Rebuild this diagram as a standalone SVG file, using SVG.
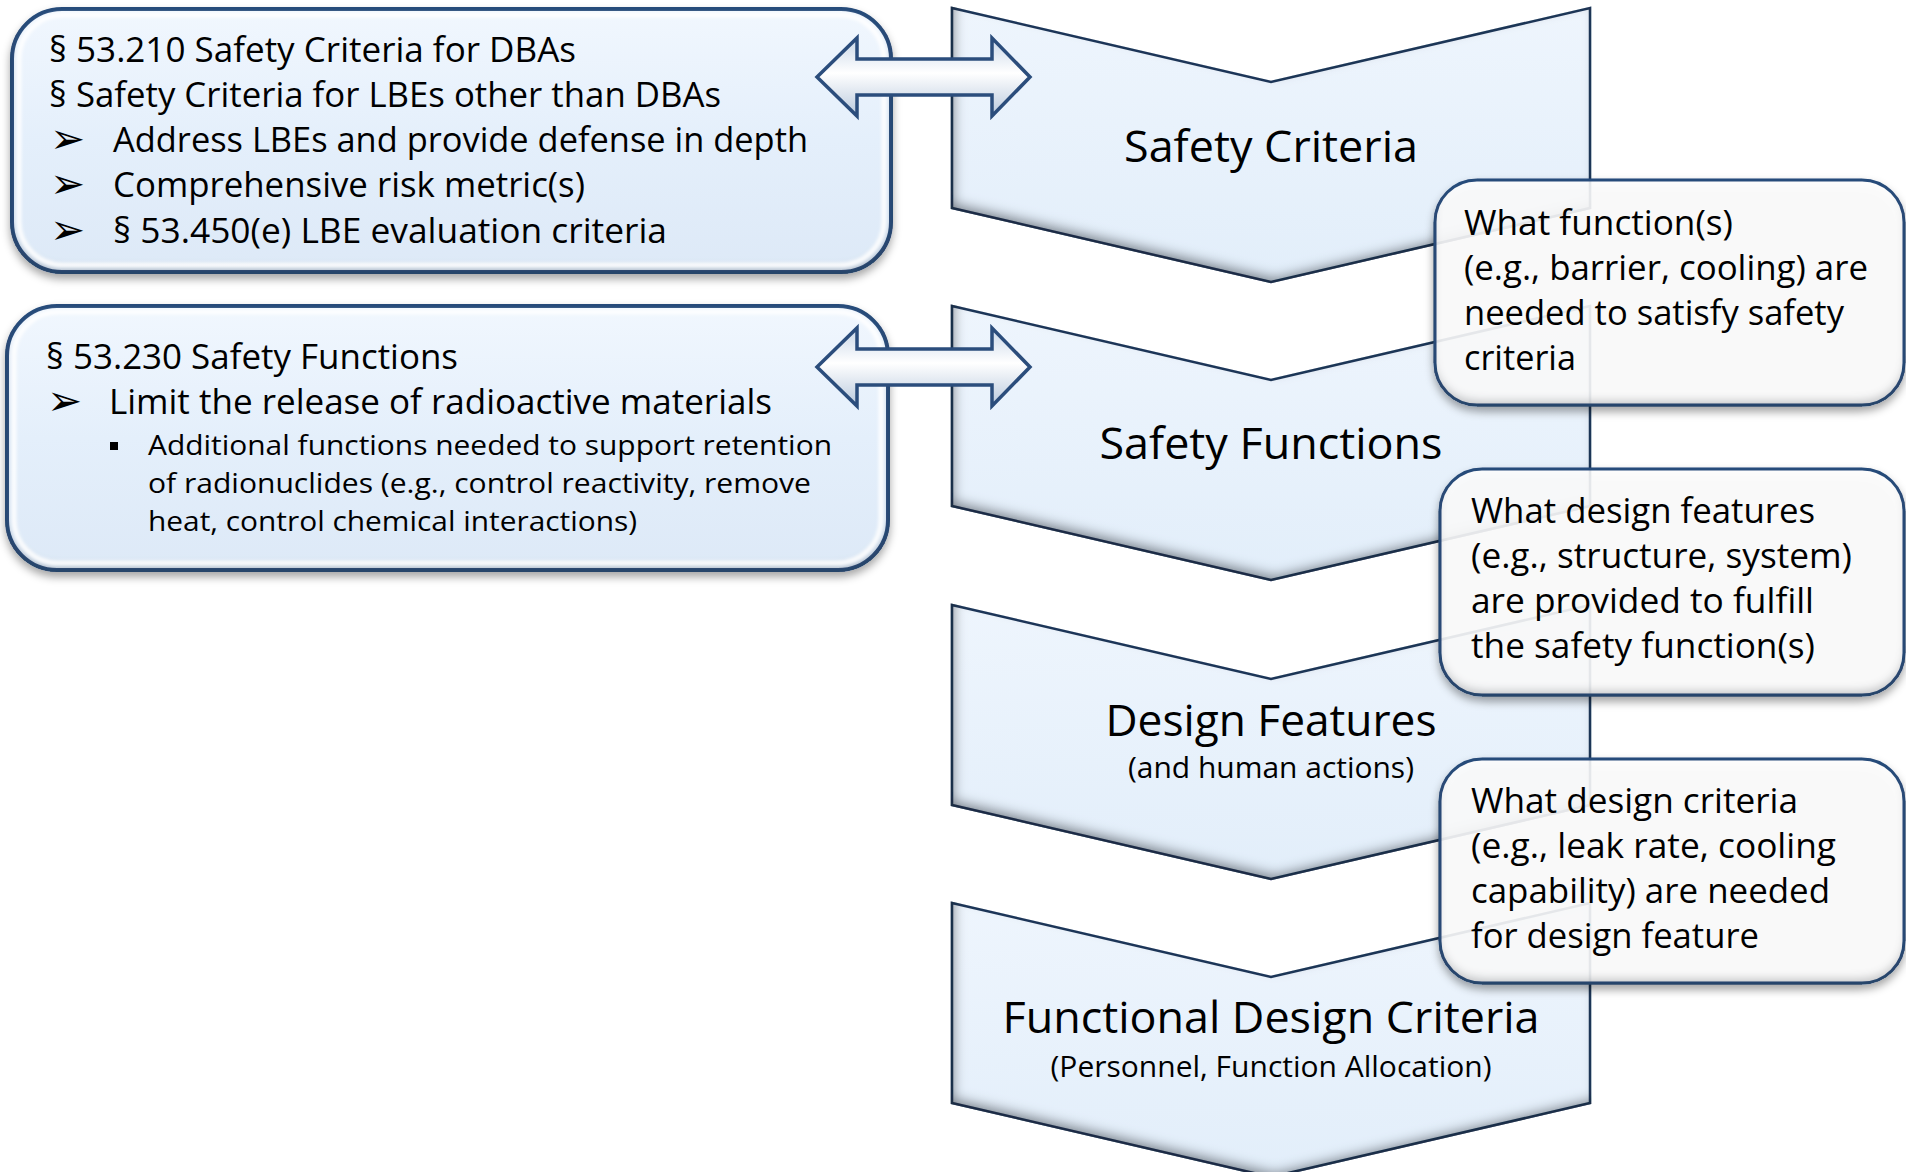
<svg xmlns="http://www.w3.org/2000/svg" width="1906" height="1172" viewBox="0 0 1906 1172">
<style>
text{font-family:"Open Sans","Liberation Sans",sans-serif;fill:#000}
.chev{fill:url(#chevFill);stroke:#22395a;stroke-width:2.5;stroke-linejoin:miter}
.clab{font-size:44px;text-anchor:middle}
.csub{font-size:29px;text-anchor:middle}
.box{fill:url(#boxFill);stroke:#2b4d7c;stroke-width:4}
.rim{fill:none;stroke:#ffffff;stroke-width:5;stroke-opacity:0.85}
.call{fill:#ffffff;fill-opacity:0.86;stroke:#2b4d7c;stroke-width:3}
.bt{font-size:34px}
.st{font-size:28px}
.ct{font-size:35px}
.sym{font-family:"DejaVu Sans",sans-serif;font-size:42px}
.arr{fill:url(#arrFill);stroke:#2b4d7c;stroke-width:3.5;stroke-linejoin:miter}
</style>
<defs>
<linearGradient id="chevFill" x1="0" y1="0" x2="0" y2="1">
<stop offset="0" stop-color="#eef5fd"/><stop offset="1" stop-color="#e2eefa"/>
</linearGradient>
<linearGradient id="boxFill" x1="0" y1="0" x2="0" y2="1">
<stop offset="0" stop-color="#f1f7fe"/><stop offset="0.5" stop-color="#e4effb"/><stop offset="1" stop-color="#dde9f7"/>
</linearGradient>
<linearGradient id="arrFill" x1="0" y1="0" x2="0" y2="1">
<stop offset="0" stop-color="#c9d7e8"/><stop offset="0.45" stop-color="#ffffff"/><stop offset="1" stop-color="#b9c9dd"/>
</linearGradient>
<filter id="bevel" x="-5%" y="-5%" width="110%" height="110%">
<feComponentTransfer in="SourceAlpha" result="inv"><feFuncA type="table" tableValues="1 0"/></feComponentTransfer>
<feGaussianBlur in="inv" stdDeviation="6" result="ib"/>
<feOffset in="ib" dx="4" dy="-6" result="ibo"/>
<feFlood flood-color="#1b2838" flood-opacity="0.75"/>
<feComposite in2="ibo" operator="in" result="sh"/>
<feComposite in="sh" in2="SourceAlpha" operator="in" result="inner"/>
<feMerge><feMergeNode in="SourceGraphic"/><feMergeNode in="inner"/></feMerge>
</filter>
<filter id="shadow" x="-5%" y="-10%" width="110%" height="125%">
<feComponentTransfer in="SourceAlpha" result="solid"><feFuncA type="discrete" tableValues="0 1"/></feComponentTransfer>
<feGaussianBlur in="solid" stdDeviation="4" result="b"/>
<feOffset in="b" dx="0" dy="5" result="o"/>
<feFlood flood-color="#000" flood-opacity="0.35"/>
<feComposite in2="o" operator="in" result="s"/>
<feComponentTransfer in="solid" result="inv"><feFuncA type="table" tableValues="1 0"/></feComponentTransfer>
<feGaussianBlur in="inv" stdDeviation="5" result="ib"/>
<feOffset in="ib" dx="0" dy="-6" result="ibo"/>
<feFlood flood-color="#2a3748" flood-opacity="0.45"/>
<feComposite in2="ibo" operator="in" result="ish"/>
<feComposite in="ish" in2="solid" operator="in" result="inner"/>
<feMerge><feMergeNode in="s"/><feMergeNode in="SourceGraphic"/><feMergeNode in="inner"/></feMerge>
</filter>
<filter id="soft"><feGaussianBlur stdDeviation="1.5"/></filter>
</defs>
<rect width="1906" height="1172" fill="#ffffff"/>

<g id="chevron-safety-criteria">
<polygon class="chev" filter="url(#bevel)" points="952,8 1271,82 1590,8 1590,208 1271,282 952,208"/>
<text class="clab" x="1271" y="162" textLength="294" lengthAdjust="spacingAndGlyphs">Safety Criteria</text>
</g>
<g id="chevron-safety-functions">
<polygon class="chev" filter="url(#bevel)" points="952,306 1271,380 1590,306 1590,506 1271,580 952,506"/>
<text class="clab" x="1271" y="459" textLength="343" lengthAdjust="spacingAndGlyphs">Safety Functions</text>
</g>
<g id="chevron-design-features">
<polygon class="chev" filter="url(#bevel)" points="952,605 1271,679 1590,605 1590,805 1271,879 952,805"/>
<text class="clab" x="1271" y="736" textLength="331" lengthAdjust="spacingAndGlyphs">Design Features</text>
<text class="csub" x="1271" y="778" textLength="286" lengthAdjust="spacingAndGlyphs">(and human actions)</text>
</g>
<g id="chevron-functional-design-criteria">
<polygon class="chev" filter="url(#bevel)" points="952,903 1271,977 1590,903 1590,1103 1271,1177 952,1103"/>
<text class="clab" x="1271" y="1033" textLength="537" lengthAdjust="spacingAndGlyphs">Functional Design Criteria</text>
<text class="csub" x="1271" y="1077" textLength="441" lengthAdjust="spacingAndGlyphs">(Personnel, Function Allocation)</text>
</g>

<g id="box-safety-criteria">
<rect class="box" filter="url(#shadow)" x="12" y="9" width="879" height="263" rx="50"/>
<rect class="rim" filter="url(#soft)" x="19" y="15" width="865" height="250" rx="44"/>
<text class="bt" x="49" y="62" textLength="527" lengthAdjust="spacingAndGlyphs">§ 53.210 Safety Criteria for DBAs</text>
<text class="bt" x="49" y="107" textLength="672" lengthAdjust="spacingAndGlyphs">§ Safety Criteria for LBEs other than DBAs</text>
<text class="sym" x="50" y="153">➢</text>
<text class="bt" x="113" y="152" textLength="695" lengthAdjust="spacingAndGlyphs">Address LBEs and provide defense in depth</text>
<text class="sym" x="50" y="198">➢</text>
<text class="bt" x="113" y="197" textLength="472" lengthAdjust="spacingAndGlyphs">Comprehensive  risk metric(s)</text>
<text class="sym" x="50" y="244">➢</text>
<text class="bt" x="113" y="243" textLength="554" lengthAdjust="spacingAndGlyphs">§ 53.450(e) LBE evaluation criteria</text>
</g>

<g id="box-safety-functions">
<rect class="box" filter="url(#shadow)" x="7" y="306" width="881" height="264" rx="50"/>
<rect class="rim" filter="url(#soft)" x="14" y="312" width="867" height="251" rx="44"/>
<text class="bt" x="46" y="369" textLength="412" lengthAdjust="spacingAndGlyphs">§ 53.230 Safety Functions</text>
<text class="sym" x="47" y="415">➢</text>
<text class="bt" x="109" y="414" textLength="663" lengthAdjust="spacingAndGlyphs">Limit the release of radioactive materials</text>
<rect x="110" y="442" width="8" height="8" fill="#000"/>
<text class="st" x="148" y="455" textLength="684" lengthAdjust="spacingAndGlyphs">Additional functions needed to support retention</text>
<text class="st" x="148" y="493" textLength="663" lengthAdjust="spacingAndGlyphs">of radionuclides (e.g., control reactivity, remove</text>
<text class="st" x="148" y="531" textLength="489" lengthAdjust="spacingAndGlyphs">heat, control chemical interactions)</text>
</g>

<g id="callout-functions">
<rect class="call" filter="url(#shadow)" x="1435" y="180" width="469" height="225" rx="42"/>
<text class="ct" x="1464" y="235" textLength="269" lengthAdjust="spacingAndGlyphs">What function(s)</text>
<text class="ct" x="1464" y="280" textLength="404" lengthAdjust="spacingAndGlyphs">(e.g., barrier, cooling) are</text>
<text class="ct" x="1464" y="325" textLength="380" lengthAdjust="spacingAndGlyphs">needed to satisfy safety</text>
<text class="ct" x="1464" y="370" textLength="112" lengthAdjust="spacingAndGlyphs">criteria</text>
</g>
<g id="callout-features">
<rect class="call" filter="url(#shadow)" x="1440" y="469" width="464" height="226" rx="42"/>
<text class="ct" x="1471" y="523" textLength="344" lengthAdjust="spacingAndGlyphs">What design features</text>
<text class="ct" x="1471" y="568" textLength="381" lengthAdjust="spacingAndGlyphs">(e.g., structure, system)</text>
<text class="ct" x="1471" y="613" textLength="343" lengthAdjust="spacingAndGlyphs">are provided to fulfill</text>
<text class="ct" x="1471" y="658" textLength="344" lengthAdjust="spacingAndGlyphs">the safety function(s)</text>
</g>
<g id="callout-criteria">
<rect class="call" filter="url(#shadow)" x="1440" y="759" width="464" height="224" rx="42"/>
<text class="ct" x="1471" y="813" textLength="327" lengthAdjust="spacingAndGlyphs">What design criteria</text>
<text class="ct" x="1471" y="858" textLength="365" lengthAdjust="spacingAndGlyphs">(e.g., leak rate, cooling</text>
<text class="ct" x="1471" y="903" textLength="359" lengthAdjust="spacingAndGlyphs">capability) are needed</text>
<text class="ct" x="1471" y="948" textLength="288" lengthAdjust="spacingAndGlyphs">for design feature</text>
</g>

<g id="connectors">
<path class="arr" d="M817,77 L857,38 L857,59 L992,59 L992,38 L1030,77 L992,116 L992,95 L857,95 L857,116 Z"/>
<path class="arr" d="M817,367 L857,328 L857,349 L992,349 L992,328 L1030,367 L992,406 L992,385 L857,385 L857,406 Z"/>
</g>
</svg>
